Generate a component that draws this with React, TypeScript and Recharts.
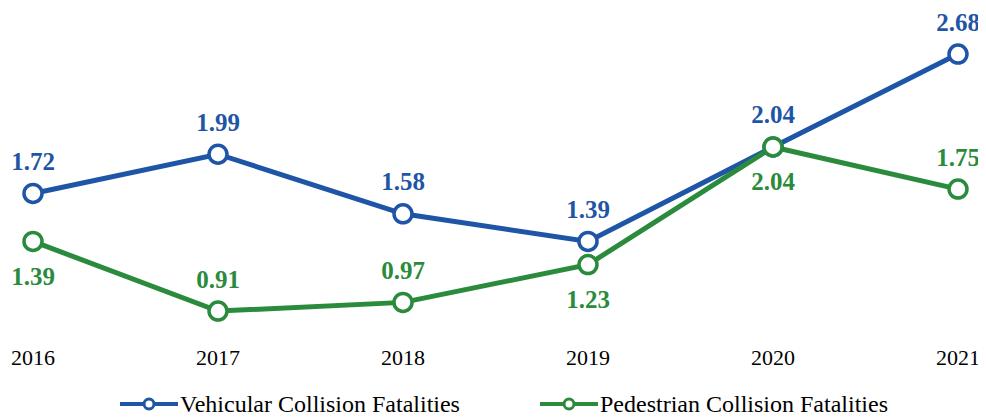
import { LineChart, Line, XAxis, YAxis, LabelList } from 'recharts'

const years = ['2016', '2017', '2018', '2019', '2020', '2021']
const vehicular = [1.72, 1.99, 1.58, 1.39, 2.04, 2.68]
const pedestrian = [1.39, 0.91, 0.97, 1.23, 2.04, 1.75]

const BLUE = '#1f55a6'
const GREEN = '#2a8b3d'
const FONT = 'Liberation Serif, Times New Roman, serif'

// which green labels sit above their point (others go below)
const greenAbove = [false, true, true, false, false, true]

const data = years.map((year, i) => ({
  year,
  vehicular: vehicular[i],
  pedestrian: pedestrian[i],
}))

function makeLabel(color: string, above: (i: number) => boolean) {
  return (props: any) => {
    const { x, y, value, index } = props
    const dy = above(index) ? -32 : 35
    return (
      <text
        x={x}
        y={y + dy}
        textAnchor="middle"
        dominantBaseline="central"
        fill={color}
        fontFamily={FONT}
        fontWeight="bold"
        fontSize={25}
      >
        {Number(value).toFixed(2)}
      </text>
    )
  }
}

function LegendIcon({ color }: { color: string }) {
  return (
    <svg width={58} height={14} style={{ verticalAlign: 'middle' }}>
      <line x1={0} y1={7} x2={58} y2={7} stroke={color} strokeWidth={4} />
      <circle cx={29} cy={7} r={5} fill="#fff" stroke={color} strokeWidth={3} />
    </svg>
  )
}

const legendRow = {
  position: 'absolute' as const,
  top: 0,
  display: 'flex',
  alignItems: 'center',
  fontSize: 24,
  lineHeight: '24px',
  color: '#000',
  whiteSpace: 'nowrap' as const,
}

export default function App() {
  return (
    <div style={{ width: 978, fontFamily: FONT }}>
      <LineChart
        width={978}
        height={370}
        data={data}
        margin={{ top: 28.6, right: 28, bottom: 6.4, left: 25 }}
      >
        <XAxis
          dataKey="year"
          axisLine={false}
          tickLine={false}
          height={30}
          tick={{ fill: '#000', fontSize: 22, fontFamily: FONT }}
        />
        <YAxis hide domain={[0.7, 2.8]} />
        <Line
          dataKey="vehicular"
          stroke={BLUE}
          strokeWidth={5}
          dot={{ r: 9, fill: '#fff', stroke: BLUE, strokeWidth: 3.5 }}
          isAnimationActive={false}
        >
          <LabelList dataKey="vehicular" content={makeLabel(BLUE, () => true)} />
        </Line>
        <Line
          dataKey="pedestrian"
          stroke={GREEN}
          strokeWidth={5}
          dot={{ r: 9, fill: '#fff', stroke: GREEN, strokeWidth: 3.5 }}
          isAnimationActive={false}
        >
          <LabelList dataKey="pedestrian" content={makeLabel(GREEN, (i) => greenAbove[i])} />
        </Line>
      </LineChart>
      <div style={{ position: 'relative', height: 26, marginTop: 14 }}>
        <div style={{ ...legendRow, left: 112 }}>
          <LegendIcon color={BLUE} />
          <span style={{ marginLeft: 2 }}>Vehicular Collision Fatalities</span>
        </div>
        <div style={{ ...legendRow, left: 532 }}>
          <LegendIcon color={GREEN} />
          <span style={{ marginLeft: 2 }}>Pedestrian Collision Fatalities</span>
        </div>
      </div>
    </div>
  )
}
